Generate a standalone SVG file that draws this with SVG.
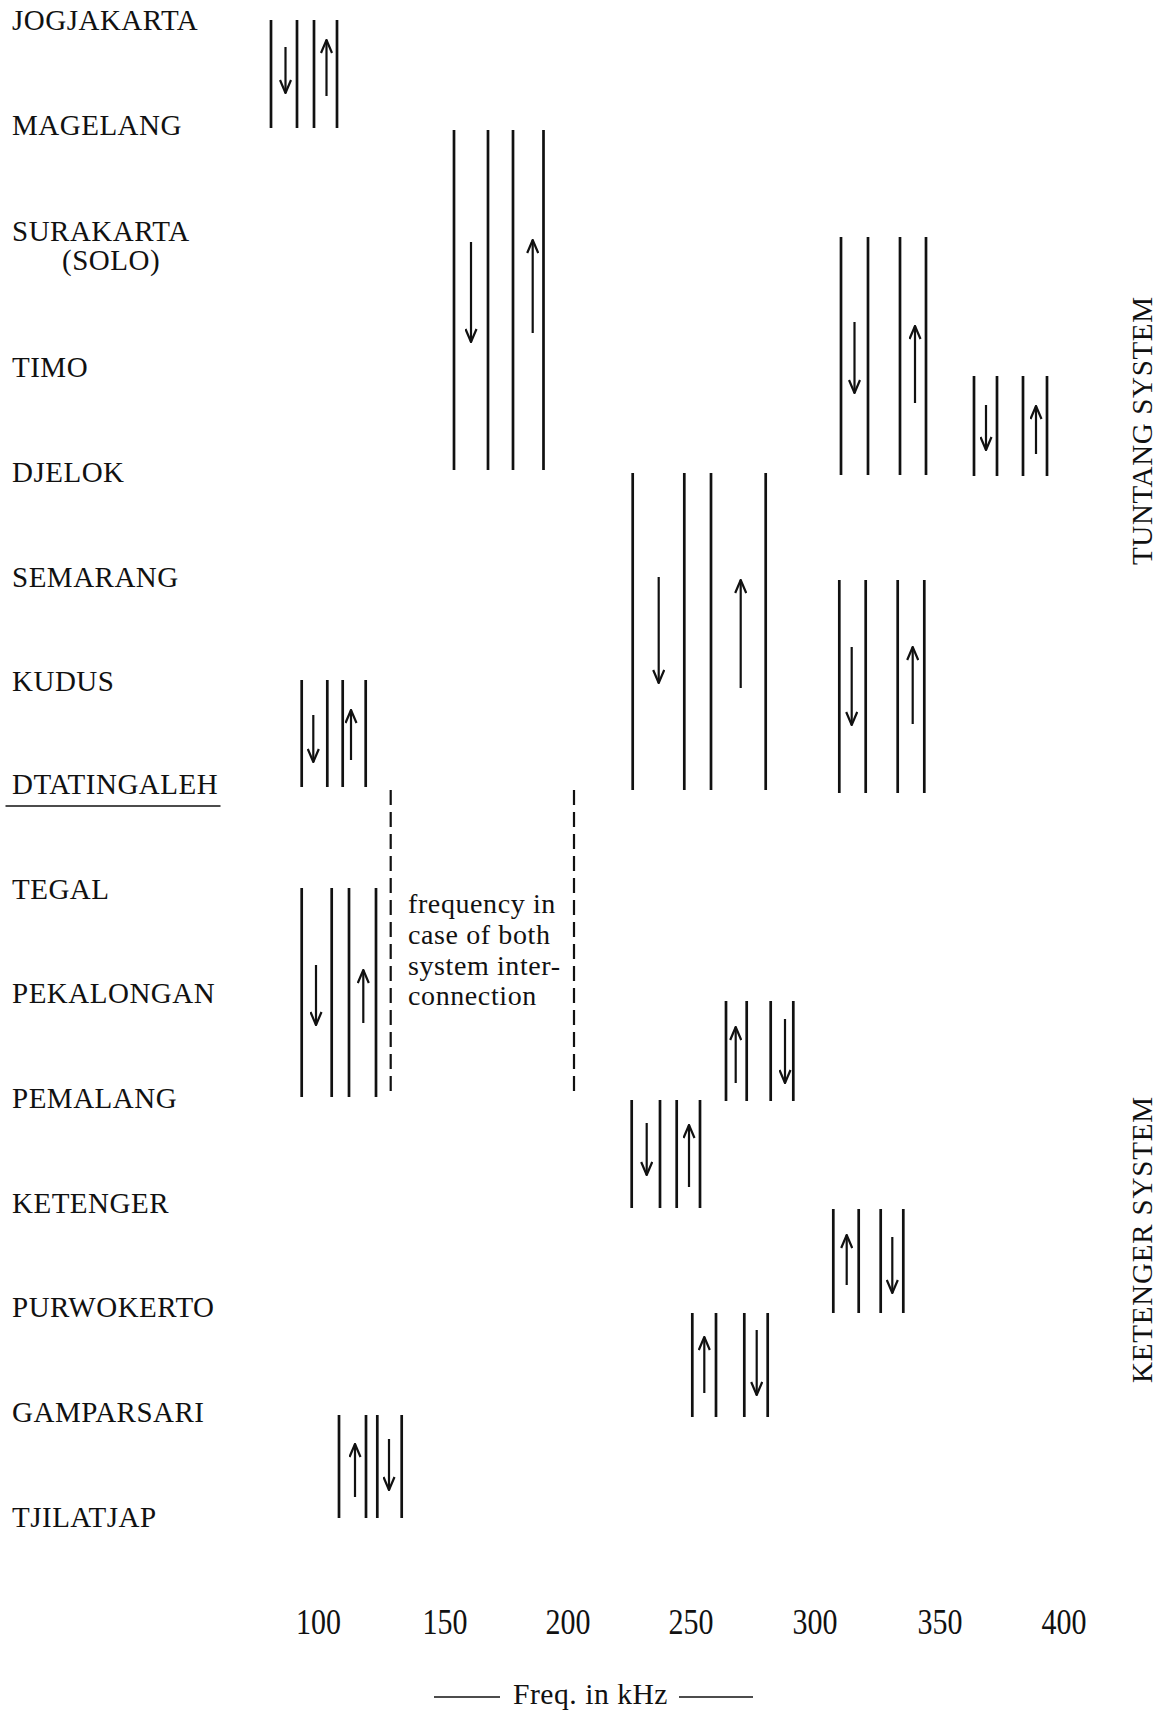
<svg xmlns="http://www.w3.org/2000/svg" width="1160" height="1713" viewBox="0 0 1160 1713">
  <style>
    .lbl { font-family: "Liberation Serif", "Times New Roman", serif; font-size: 29px; letter-spacing: 0.5px; fill: #111; }
    .note { font-family: "Liberation Serif", "Times New Roman", serif; font-size: 28px; letter-spacing: 0.6px; fill: #111; }
    .sys { font-family: "Liberation Serif", "Times New Roman", serif; font-size: 29px; fill: #111; }
    .tick { font-family: "Liberation Serif", "Times New Roman", serif; font-size: 30px; fill: #111; text-anchor: middle; }
    .ch { stroke: #111; stroke-width: 2.7; fill: none; }
    .arr { stroke: #111; stroke-width: 2.2; fill: none; marker-end: url(#head); }
    .dash { stroke: #111; stroke-width: 2.2; fill: none; stroke-dasharray: 15 7; }
    .rule { stroke: #111; stroke-width: 1.6; fill: none; }
  </style>
  <defs>
    <marker id="head" viewBox="0 0 15 13" refX="14" refY="6.5" markerWidth="15" markerHeight="13" markerUnits="userSpaceOnUse" orient="auto">
      <path d="M1,1 L14,6.5 L1,12" fill="none" stroke="#111" stroke-width="2.2"/>
    </marker>
  </defs>
  <rect width="1160" height="1713" fill="#fff"/>

  <!-- station names -->
  <g id="stations">
    <text class="lbl" x="12" y="30">JOGJAKARTA</text>
    <text class="lbl" x="12" y="135">MAGELANG</text>
    <text class="lbl" x="12" y="240.5">SURAKARTA</text>
    <text class="lbl" x="62" y="270">(SOLO)</text>
    <text class="lbl" x="12" y="377">TIMO</text>
    <text class="lbl" x="12" y="482">DJELOK</text>
    <text class="lbl" x="12" y="586.5">SEMARANG</text>
    <text class="lbl" x="12" y="690.5">KUDUS</text>
    <text class="lbl" x="12" y="794">DTATINGALEH</text>
    <line class="rule" x1="5.5" y1="806" x2="220.5" y2="806"/>
    <text class="lbl" x="12" y="899">TEGAL</text>
    <text class="lbl" x="12" y="1003">PEKALONGAN</text>
    <text class="lbl" x="12" y="1107.5">PEMALANG</text>
    <text class="lbl" x="12" y="1212.5">KETENGER</text>
    <text class="lbl" x="12" y="1317">PURWOKERTO</text>
    <text class="lbl" x="12" y="1422">GAMPARSARI</text>
    <text class="lbl" x="12" y="1527">TJILATJAP</text>
  </g>

  <!-- system names -->
  <text class="sys" transform="translate(1152,431) rotate(-90)" text-anchor="middle" textLength="268" lengthAdjust="spacing">TUNTANG  SYSTEM</text>
  <text class="sys" transform="translate(1152,1240) rotate(-90)" text-anchor="middle" textLength="286" lengthAdjust="spacing">KETENGER  SYSTEM</text>

  <!-- carrier channel groups: four band edges, go and return direction arrows -->
  <g id="ch-jogjakarta-magelang">
    <path class="ch" d="M271,20V128 M297,20V128 M314,20V128 M337,20V128"/>
    <line class="arr" x1="285.5" y1="47" x2="285.5" y2="93"/>
    <line class="arr" x1="326.5" y1="96" x2="326.5" y2="40"/>
  </g>
  <g id="ch-magelang-djelok">
    <path class="ch" d="M454,130V470 M488,130V470 M513,130V470 M543.5,130V470"/>
    <line class="arr" x1="471" y1="242" x2="471" y2="342"/>
    <line class="arr" x1="532.7" y1="333" x2="532.7" y2="240"/>
  </g>
  <g id="ch-surakarta-djelok">
    <path class="ch" d="M841,237V475 M868,237V475 M900,237V475 M926,237V475"/>
    <line class="arr" x1="854.5" y1="322" x2="854.5" y2="393"/>
    <line class="arr" x1="915" y1="403" x2="915" y2="326"/>
  </g>
  <g id="ch-timo-djelok">
    <path class="ch" d="M974,376V476 M997,376V476 M1023,376V476 M1047,376V476"/>
    <line class="arr" x1="986" y1="405" x2="986" y2="450"/>
    <line class="arr" x1="1036" y1="454" x2="1036" y2="406"/>
  </g>
  <g id="ch-djelok-dtatingaleh">
    <path class="ch" d="M632.7,473V790 M684.3,473V790 M711,473V790 M765.7,473V790"/>
    <line class="arr" x1="658.7" y1="577" x2="658.7" y2="683"/>
    <line class="arr" x1="740.7" y1="688" x2="740.7" y2="580"/>
  </g>
  <g id="ch-semarang-dtatingaleh">
    <path class="ch" d="M839.3,580V793 M865.7,580V793 M897.7,580V793 M924.3,580V793"/>
    <line class="arr" x1="851.7" y1="647" x2="851.7" y2="725"/>
    <line class="arr" x1="912.7" y1="724" x2="912.7" y2="647"/>
  </g>
  <g id="ch-kudus-dtatingaleh">
    <path class="ch" d="M301.7,680V787 M327.3,680V787 M342.7,680V787 M365.7,680V787"/>
    <line class="arr" x1="313.3" y1="715" x2="313.3" y2="762"/>
    <line class="arr" x1="351" y1="760" x2="351" y2="710"/>
  </g>
  <g id="ch-tegal-pemalang">
    <path class="ch" d="M301.7,888V1097 M331.7,888V1097 M349,888V1097 M376,888V1097"/>
    <line class="arr" x1="316" y1="965" x2="316" y2="1025"/>
    <line class="arr" x1="363.3" y1="1023" x2="363.3" y2="970"/>
  </g>
  <g id="ch-pekalongan-pemalang">
    <path class="ch" d="M726,1001V1101 M746.7,1001V1101 M770.7,1001V1101 M793.3,1001V1101"/>
    <line class="arr" x1="735.7" y1="1083" x2="735.7" y2="1027"/>
    <line class="arr" x1="785" y1="1019" x2="785" y2="1083"/>
  </g>
  <g id="ch-pemalang-ketenger">
    <path class="ch" d="M631.7,1100V1208 M660,1100V1208 M676.7,1100V1208 M700,1100V1208"/>
    <line class="arr" x1="646.7" y1="1123" x2="646.7" y2="1175"/>
    <line class="arr" x1="689" y1="1187" x2="689" y2="1125"/>
  </g>
  <g id="ch-ketenger-purwokerto">
    <path class="ch" d="M833.3,1209V1313 M858.7,1209V1313 M880.7,1209V1313 M903.3,1209V1313"/>
    <line class="arr" x1="846.7" y1="1285" x2="846.7" y2="1235"/>
    <line class="arr" x1="892.3" y1="1237" x2="892.3" y2="1293"/>
  </g>
  <g id="ch-purwokerto-gamparsari">
    <path class="ch" d="M692.3,1313V1417 M716,1313V1417 M744.3,1313V1417 M767.7,1313V1417"/>
    <line class="arr" x1="704.3" y1="1393" x2="704.3" y2="1337"/>
    <line class="arr" x1="756.7" y1="1330" x2="756.7" y2="1395"/>
  </g>
  <g id="ch-gamparsari-tjilatjap">
    <path class="ch" d="M339,1415V1518 M366,1415V1518 M377.3,1415V1518 M401.7,1415V1518"/>
    <line class="arr" x1="355" y1="1497" x2="355" y2="1444"/>
    <line class="arr" x1="389" y1="1439" x2="389" y2="1490"/>
  </g>

  <!-- interconnection band -->
  <g id="interconnection">
    <line class="dash" x1="390.7" y1="790" x2="390.7" y2="1098"/>
    <line class="dash" x1="574" y1="790" x2="574" y2="1098"/>
    <text class="note" x="408" y="913">frequency in</text>
    <text class="note" x="408" y="944">case of both</text>
    <text class="note" x="408" y="975">system inter-</text>
    <text class="note" x="408" y="1005">connection</text>
  </g>

  <!-- frequency axis -->
  <g id="axis">
    <g transform="translate(0,1634) scale(1,1.2)">
      <text class="tick" x="318.5" y="0">100</text>
      <text class="tick" x="445" y="0">150</text>
      <text class="tick" x="568" y="0">200</text>
      <text class="tick" x="691" y="0">250</text>
      <text class="tick" x="815" y="0">300</text>
      <text class="tick" x="940" y="0">350</text>
      <text class="tick" x="1064" y="0">400</text>
    </g>
    <line class="rule" x1="434" y1="1697" x2="500" y2="1697"/>
    <text class="lbl" x="513" y="1704" textLength="155" lengthAdjust="spacingAndGlyphs">Freq. in kHz</text>
    <line class="rule" x1="679" y1="1697" x2="753" y2="1697"/>
  </g>
</svg>
